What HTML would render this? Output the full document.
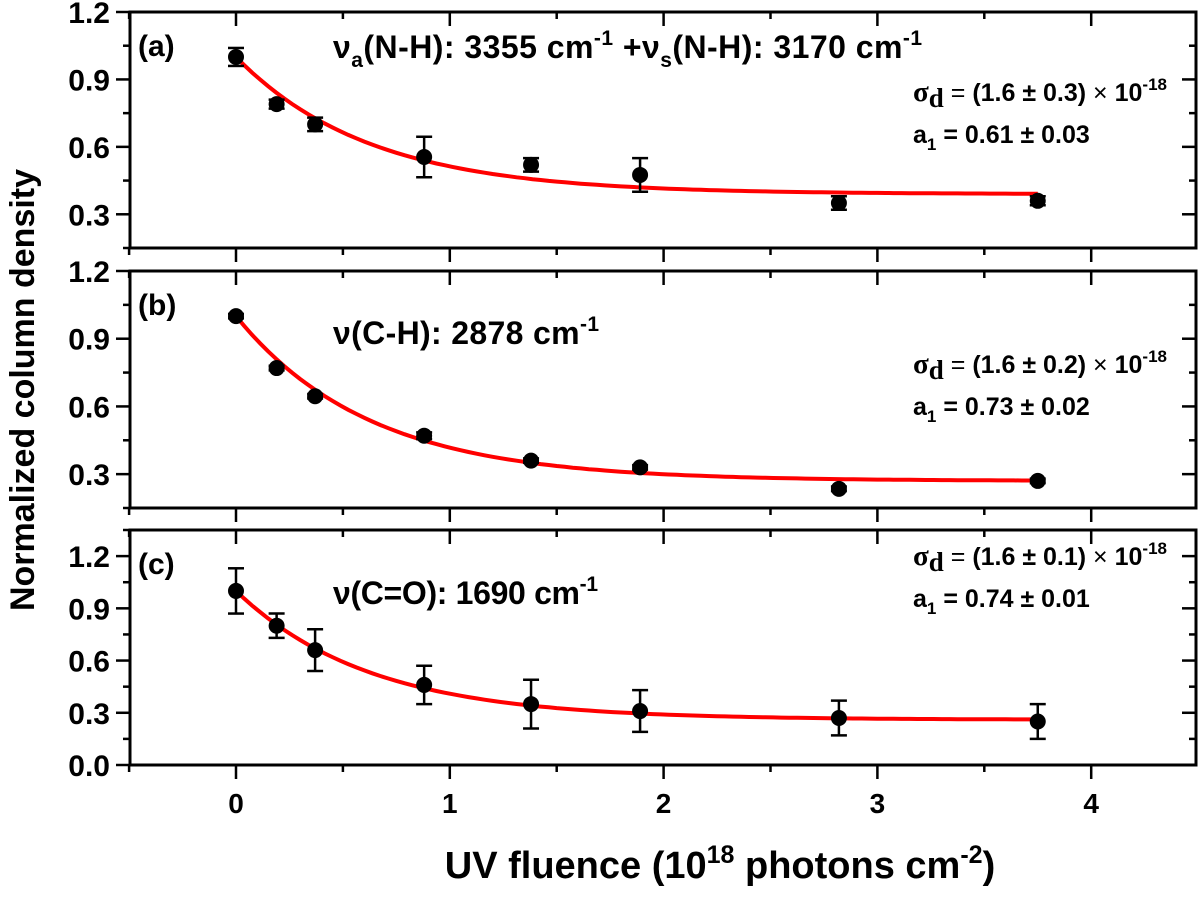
<!DOCTYPE html>
<html><head><meta charset="utf-8"><style>
body{margin:0;background:#fff;}
svg{display:block;font-family:"Liberation Sans",Arial,sans-serif;font-weight:bold;}
</style></head><body>
<svg id="chart" width="1200" height="897" viewBox="0 0 1200 897"></svg>
<script>
const fluence = [0, 0.19, 0.37, 0.88, 1.38, 1.89, 2.82, 3.75];
const valuesA = [1.0, 0.79, 0.70, 0.555, 0.52, 0.475, 0.35, 0.36];
const errorsA = [0.04, 0.02, 0.03, 0.09, 0.03, 0.075, 0.03, 0.02];
const valuesB = [1.0, 0.77, 0.645, 0.47, 0.36, 0.33, 0.235, 0.27];
const errorsB = [0.01, 0.01, 0.01, 0.015, 0.01, 0.01, 0.01, 0.01];
const valuesC = [1.0, 0.80, 0.66, 0.46, 0.35, 0.31, 0.27, 0.25];
const errorsC = [0.13, 0.07, 0.12, 0.11, 0.14, 0.12, 0.10, 0.10];
const sigmaFit = [1.6, 1.6, 1.6];
const a1Fit = [0.61, 0.73, 0.74];
const xTicks = [0, 1, 2, 3, 4];
const yTicksAB = [0.3, 0.6, 0.9, 1.2];
const yTicksC = [0.0, 0.3, 0.6, 0.9, 1.2];

const NS = "http://www.w3.org/2000/svg";
const svg = document.getElementById("chart");
function mk(tag, attrs, parent) {
  const e = document.createElementNS(NS, tag);
  for (const k in attrs) e.setAttribute(k, attrs[k]);
  (parent || svg).appendChild(e);
  return e;
}
const XL = 130, XR = 1196;
const xs = v => 236 + v * 213.8;
const xMax = (XR - 236) / 213.8;

const panels = [
  {top: 12, bot: 248, ymin: 0.15, ymax: 1.2, vals: valuesA, errs: errorsA, ticks: yTicksAB, label: "(a)",
   title: '<tspan>ν</tspan><tspan font-size="21" dy="9">a</tspan><tspan dy="-9">(N-H): 3355 cm</tspan><tspan font-size="21" dy="-13">-1</tspan><tspan dy="13"> +ν</tspan><tspan font-size="21" dy="9">s</tspan><tspan dy="-9">(N-H): 3170 cm</tspan><tspan font-size="21" dy="-13">-1</tspan>',
   tx: 333, ty: 58, tl: 589, sd: "(1.6 ± 0.3)", a1: "0.61 ± 0.03", ay: 101},
  {top: 271, bot: 508, ymin: 0.15, ymax: 1.2, vals: valuesB, errs: errorsB, ticks: yTicksAB, label: "(b)",
   title: '<tspan>ν(C-H): 2878 cm</tspan><tspan font-size="21" dy="-13">-1</tspan>',
   tx: 333, ty: 344, tl: 266, sd: "(1.6 ± 0.2)", a1: "0.73 ± 0.02", ay: 373},
  {top: 530, bot: 765, ymin: 0.0, ymax: 1.35, vals: valuesC, errs: errorsC, ticks: yTicksC, label: "(c)",
   title: '<tspan>ν(C=O): 1690 cm</tspan><tspan font-size="21" dy="-13">-1</tspan>',
   tx: 333, ty: 604, tl: 265, sd: "(1.6 ± 0.1)", a1: "0.74 ± 0.01", ay: 565}
];
const names = ["a","b","c"];
panels.forEach((p, pi) => {
  const ys = v => p.bot - (v - p.ymin) / (p.ymax - p.ymin) * (p.bot - p.top);
  const g = mk("g", {});
  
  
  const frame = mk("rect", {x: XL, y: p.top, width: XR - XL, height: p.bot - p.top, fill: "none", stroke: "#000", "stroke-width": 3}, g);
  
  
  for (let t = -0.5; t <= xMax + 1e-6; t += 0.5) {
    const x = xs(t); if (x < XL - 1) continue;
    const major = Math.abs(t - Math.round(t)) < 1e-6;
    const len = major ? 14 : 7;
    mk("line", {x1: x, x2: x, y1: p.bot, y2: p.bot + len, stroke: "#000", "stroke-width": 2.5}, g);
    mk("line", {x1: x, x2: x, y1: p.top, y2: p.top + len, stroke: "#000", "stroke-width": 2.5}, g);
  }
  const step = 0.15;
  for (let v = Math.ceil(p.ymin / step) * step; v <= p.ymax + 1e-6; v += step) {
    const y = ys(v);
    const major = p.ticks.some(t => Math.abs(t - v) < 1e-6);
    const len = major ? 14 : 7;
    mk("line", {x1: XL - len, x2: XL, y1: y, y2: y, stroke: "#000", "stroke-width": 2.5}, g);
    mk("line", {x1: XR - len, x2: XR, y1: y, y2: y, stroke: "#000", "stroke-width": 2.5}, g);
  }
  p.ticks.forEach(t => {
    const tl = mk("text", {x: XL - 20, y: ys(t) + 11, "text-anchor": "end", "font-size": 30}, g);
    tl.textContent = t.toFixed(1);
    
    
  });
  let d = "";
  for (let i = 0; i <= 100; i++) {
    const f = fluence[fluence.length - 1] * i / 100;
    const v = (1 - a1Fit[pi]) + a1Fit[pi] * Math.exp(-sigmaFit[pi] * f);
    d += (i ? "L" : "M") + xs(f).toFixed(1) + "," + ys(v).toFixed(1);
  }
  const fit = mk("path", {d: d, fill: "none", stroke: "#f00", "stroke-width": 4}, g);
  
  
  fluence.forEach((f, i) => {
    const x = xs(f), v = p.vals[i], e = p.errs[i];
    const y1 = ys(v + e), y2 = ys(v - e);
    mk("line", {x1: x, x2: x, y1: y1, y2: y2, stroke: "#000", "stroke-width": 2.5}, g);
    mk("line", {x1: x - 8, x2: x + 8, y1: y1, y2: y1, stroke: "#000", "stroke-width": 2.5}, g);
    mk("line", {x1: x - 8, x2: x + 8, y1: y2, y2: y2, stroke: "#000", "stroke-width": 2.5}, g);
    const c = mk("circle", {cx: x, cy: ys(v), r: 8, fill: "#000"}, g);
    
    
  });
  const lab = mk("text", {x: 138, y: p.top + 44, "font-size": 30}, g);
  lab.textContent = p.label;
  
  
  const tt = mk("text", {x: p.tx, y: p.ty, "font-size": 32, textLength: p.tl, lengthAdjust: "spacing"}, g);
  tt.innerHTML = p.title;
  
  
  const sd = mk("text", {x: 913, y: p.ay, "font-size": 25}, g);
  sd.innerHTML = '<tspan font-family="Liberation Serif, serif" font-size="29">σ</tspan><tspan font-family="Liberation Serif, serif" font-size="27" dy="6">d</tspan><tspan dy="-6" font-weight="normal"> = </tspan><tspan>' + p.sd + '</tspan><tspan font-weight="normal"> × </tspan><tspan>10</tspan><tspan font-size="17" dy="-11">-18</tspan>';
  
  
  const aa = mk("text", {x: 913, y: p.ay + 42, "font-size": 25}, g);
  aa.innerHTML = '<tspan>a</tspan><tspan font-size="17" dy="7">1</tspan><tspan dy="-7"> = ' + p.a1 + '</tspan>';
  
  
});
xTicks.forEach(t => {
  const tl = mk("text", {x: xs(t), y: 813, "text-anchor": "middle", "font-size": 28});
  tl.textContent = t;
  
  
});
const xt = mk("text", {x: 720, y: 878, "text-anchor": "middle", "font-size": 38});
xt.innerHTML = 'UV fluence (10<tspan font-size="25" dy="-15">18</tspan><tspan dy="15"> photons cm</tspan><tspan font-size="25" dy="-15">-2</tspan><tspan dy="15">)</tspan>';


const yt = mk("text", {x: 0, y: 0, "text-anchor": "middle", "font-size": 34, transform: "translate(34,390) rotate(-90)"});
yt.textContent = "Normalized column density";


</script>
</body></html>
